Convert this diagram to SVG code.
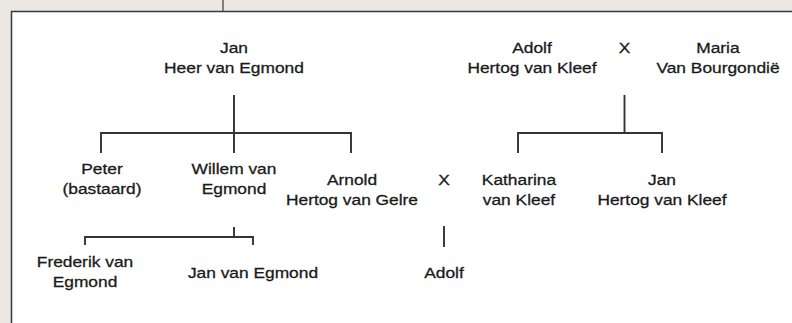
<svg xmlns="http://www.w3.org/2000/svg" width="792" height="323" viewBox="0 0 792 323">
<style>
  .bg { fill: #ece8e1; }
  .box { fill: #ffffff; stroke: #3a3a3a; stroke-width: 1.5; }
  .ln { fill: none; stroke: #333333; stroke-width: 1.9; }
  text { font-family: "Liberation Sans", Arial, sans-serif; font-size: 15.5px; fill: #1a1a1a; stroke: #1a1a1a; stroke-width: 0.3; text-anchor: middle; transform-box: fill-box; transform-origin: center; transform: scaleX(1.12); }
</style>
<rect class="bg" x="0" y="0" width="792" height="323"/>
<line x1="223" y1="0" x2="223" y2="11" stroke="#3a3a3a" stroke-width="1.2"/>
<rect class="box" x="11.5" y="11.5" width="800" height="400"/>

<g id="connectors">
  <path class="ln" d="M234 95 V133 M101 153 V133 H351 V153 M234 133 V153"/>
  <path class="ln" d="M624.5 95 V133 M518 153 V133 H662 V153"/>
  <path class="ln" d="M234 227 V237 M85 245 V237 H253 V245"/>
  <path class="ln" d="M444 226 V247"/>
</g>

<g id="jan-heer">
  <text x="234" y="53">Jan</text>
  <text x="234" y="73">Heer van Egmond</text>
</g>
<g id="adolf-kleef">
  <text x="532" y="53">Adolf</text>
  <text x="532" y="73">Hertog van Kleef</text>
</g>
<g id="x-top"><text x="624.5" y="53">X</text></g>
<g id="maria">
  <text x="718" y="53">Maria</text>
  <text x="718" y="73">Van Bourgondië</text>
</g>
<g id="peter">
  <text x="102" y="174">Peter</text>
  <text x="102" y="194">(bastaard)</text>
</g>
<g id="willem">
  <text x="234" y="174">Willem van</text>
  <text x="234" y="194">Egmond</text>
</g>
<g id="arnold">
  <text x="352" y="185">Arnold</text>
  <text x="352" y="205">Hertog van Gelre</text>
</g>
<g id="x-mid"><text x="444" y="185">X</text></g>
<g id="katharina">
  <text x="519" y="185">Katharina</text>
  <text x="519" y="205">van Kleef</text>
</g>
<g id="jan-kleef">
  <text x="662" y="185">Jan</text>
  <text x="662" y="205">Hertog van Kleef</text>
</g>
<g id="frederik">
  <text x="85" y="267">Frederik van</text>
  <text x="85" y="287">Egmond</text>
</g>
<g id="jan-egmond"><text x="253" y="278">Jan van Egmond</text></g>
<g id="adolf-gelre"><text x="444" y="278">Adolf</text></g>
</svg>
